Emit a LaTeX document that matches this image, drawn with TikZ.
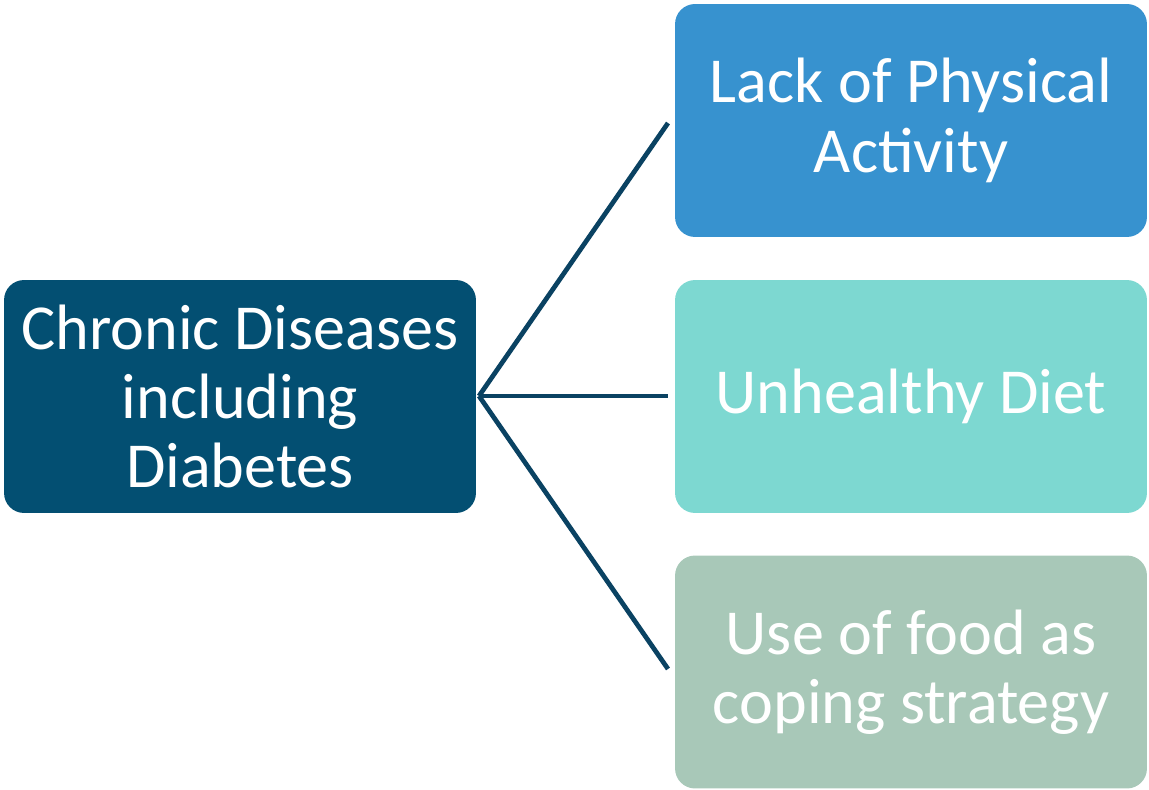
\documentclass[tikz,border=0pt]{standalone}
\usepackage{fontspec}
\setmainfont{Carlito}
\usepackage{tikz}
\definecolor{navy}{HTML}{034F72}
\definecolor{linenavy}{HTML}{0A4262}
\definecolor{skyblue}{HTML}{3792CF}
\definecolor{teal}{HTML}{7DD8D1}
\definecolor{sage}{HTML}{A8C8B8}
\tikzset{box/.style={rounded corners=0.4cm,minimum width=9.44cm,minimum height=4.66cm,
  text=white,align=center,font=\fontsize{36.5}{39.5}\selectfont,inner sep=0pt}}

\begin{document}
\begin{tikzpicture}[x=0.02cm,y=-0.02cm]
\useasboundingbox (0,0) rectangle (1149,790);
\node[box,fill=navy](chronic) at (240,396.5) {Chronic Diseases\\including\\Diabetes};
\node[box,fill=skyblue](activity) at (911,120.5) {Lack of Physical\\Activity};
\node[box,fill=teal](diet) at (911,396.5) {Unhealthy Diet};
\node[box,fill=sage](coping) at (911,672) {Use of food as\\coping strategy};
\coordinate(root) at (479,396);
\coordinate(top) at (668,123);
\coordinate(mid) at (668,396);
\coordinate(bot) at (668,669);
\draw[linenavy,line width=2.7pt](root) -- (top);
\draw[linenavy,line width=2.7pt](root) -- (mid);
\draw[linenavy,line width=2.7pt](root) -- (bot);
\end{tikzpicture}
\end{document}
